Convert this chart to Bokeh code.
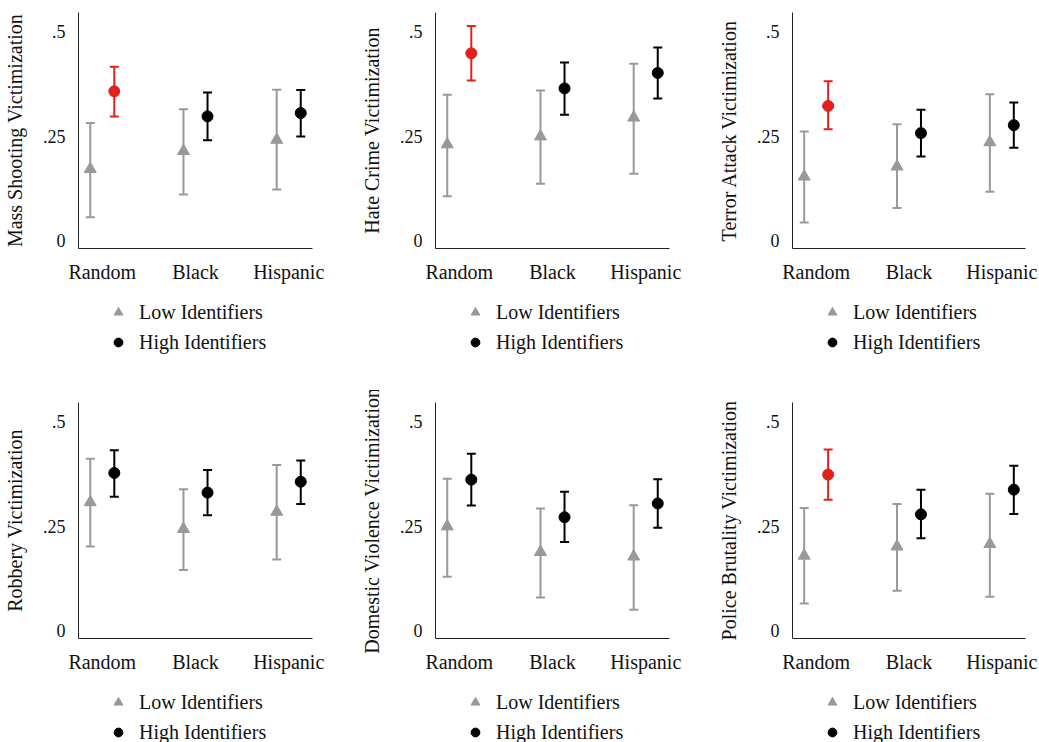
from bokeh.plotting import figure
from bokeh.models import (ColumnDataSource, Whisker, TeeHead, Range1d, FixedTicker,
                          Legend, LegendItem)
from bokeh.layouts import column, row
from bokeh.embed import file_html
from bokeh.resources import INLINE

# ---------------- data ----------------
GROUPS = ["Random", "Black", "Hispanic"]
TITLES = ["Mass Shooting Victimization", "Hate Crime Victimization",
          "Terror Attack Victimization", "Robbery Victimization",
          "Domestic Violence Victimization", "Police Brutality Victimization"]
SERIES = ["Low Identifiers", "High Identifiers"]

LOW_EST = [[0.171, 0.214, 0.241], [0.230, 0.249, 0.294], [0.153, 0.177, 0.235],
           [0.307, 0.243, 0.284], [0.249, 0.188, 0.177], [0.179, 0.201, 0.207]]
LOW_LO = [[0.056, 0.110, 0.122], [0.106, 0.136, 0.160], [0.043, 0.078, 0.117],
          [0.201, 0.145, 0.170], [0.129, 0.079, 0.050], [0.065, 0.095, 0.081]]
LOW_HI = [[0.281, 0.314, 0.361], [0.349, 0.359, 0.423], [0.261, 0.278, 0.350],
          [0.411, 0.338, 0.396], [0.363, 0.292, 0.300], [0.293, 0.303, 0.327]]

HIGH_EST = [[0.357, 0.297, 0.305], [0.448, 0.364, 0.401], [0.322, 0.257, 0.276],
            [0.377, 0.330, 0.356], [0.361, 0.271, 0.304], [0.373, 0.278, 0.337]]
HIGH_LO = [[0.297, 0.240, 0.249], [0.383, 0.301, 0.340], [0.266, 0.201, 0.222],
           [0.320, 0.276, 0.303], [0.299, 0.212, 0.246], [0.313, 0.221, 0.279]]
HIGH_HI = [[0.416, 0.354, 0.360], [0.513, 0.426, 0.462], [0.381, 0.313, 0.330],
           [0.431, 0.384, 0.407], [0.423, 0.332, 0.362], [0.433, 0.337, 0.394]]

# highlighted (significant) high-identifier estimates
HIGHLIGHT = [[1, 0, 0], [1, 0, 0], [1, 0, 0], [0, 0, 0], [0, 0, 0], [1, 0, 0]]

Y_TICKS = [0, 0.25, 0.5]
Y_TICK_LABELS = ["0", ".25", ".5"]

# ---------------- style ----------------
FONT = "Liberation Serif"
GREY = "#999999"
BLACK = "#000000"
RED = "#e2201c"
TEXT = "#111111"
OFFSET = 0.129
FRAME_W, FRAME_H = 234, 236
TOP = 12
PLOT_H = 290
LEG_ITEM_H = 24
LEG_SPACING = 6


def make_plot(i, width, left):
    p = figure(width=width, height=PLOT_H,
               x_range=Range1d(-0.255, 2.255), y_range=Range1d(-0.019, 0.5455),
               output_backend="svg", toolbar_location=None,
               min_border_left=left, min_border_top=TOP,
               min_border_right=width - left - FRAME_W,
               min_border_bottom=PLOT_H - TOP - FRAME_H)
    p.outline_line_color = None
    p.grid.visible = False
    p.background_fill_color = "white"
    p.border_fill_color = "white"

    xs = list(range(len(GROUPS)))
    low = ColumnDataSource(dict(x=[x - OFFSET for x in xs], y=LOW_EST[i],
                                lo=LOW_LO[i], hi=LOW_HI[i]))
    hx = [x + OFFSET for x in xs]
    norm_idx = [k for k in xs if not HIGHLIGHT[i][k]]
    sig_idx = [k for k in xs if HIGHLIGHT[i][k]]
    high = ColumnDataSource(dict(x=[hx[k] for k in norm_idx],
                                 y=[HIGH_EST[i][k] for k in norm_idx],
                                 lo=[HIGH_LO[i][k] for k in norm_idx],
                                 hi=[HIGH_HI[i][k] for k in norm_idx]))
    sig = ColumnDataSource(dict(x=[hx[k] for k in sig_idx],
                                y=[HIGH_EST[i][k] for k in sig_idx],
                                lo=[HIGH_LO[i][k] for k in sig_idx],
                                hi=[HIGH_HI[i][k] for k in sig_idx]))

    for src, col in ((low, GREY), (high, BLACK), (sig, RED)):
        w = Whisker(source=src, base="x", upper="hi", lower="lo", dimension="height",
                    line_color=col, line_width=2, level="underlay",
                    upper_head=TeeHead(size=9, line_color=col, line_width=2),
                    lower_head=TeeHead(size=9, line_color=col, line_width=2))
        p.add_layout(w)

    p.scatter("x", "y", source=low, marker="triangle", size=12,
              fill_color=GREY, line_color=GREY)
    p.scatter("x", "y", source=high, marker="circle", size=11,
              fill_color=BLACK, line_color=BLACK)
    p.scatter("x", "y", source=sig, marker="circle", size=11,
              fill_color=RED, line_color=RED)

    for ax in (p.xaxis[0], p.yaxis[0]):
        ax.axis_line_color = "#222222"
        ax.axis_line_width = 1
        ax.major_tick_line_color = None
        ax.minor_tick_line_color = None
        ax.major_tick_out = 0
        ax.major_tick_in = 0
        ax.minor_tick_out = 0
        ax.major_label_text_font = FONT
        ax.major_label_text_color = TEXT

    p.xaxis.ticker = FixedTicker(ticks=xs)
    p.xaxis.major_label_overrides = {k: g for k, g in zip(xs, GROUPS)}
    p.xaxis.major_label_text_font_size = "20px"
    p.xaxis.major_label_standoff = 12

    p.yaxis.ticker = FixedTicker(ticks=Y_TICKS)
    p.yaxis.major_label_overrides = {t: s for t, s in zip(Y_TICKS, Y_TICK_LABELS)}
    p.yaxis.major_label_text_font_size = "18px"
    p.yaxis.major_label_standoff = 13
    p.yaxis.axis_label = TITLES[i]
    p.yaxis.axis_label_text_font = FONT
    p.yaxis.axis_label_text_font_size = "20px"
    p.yaxis.axis_label_text_font_style = "normal"
    p.yaxis.axis_label_text_color = TEXT
    p.yaxis.axis_label_standoff = 14
    return p, low, high


def make_legend(width, height, left, low, high):
    # legend-only strip; its ranges lie away from the data so only the legend shows
    q = figure(width=width, height=height, x_range=Range1d(-20, -19),
               y_range=Range1d(-20, -19), x_axis_type=None, y_axis_type=None,
               output_backend="svg", toolbar_location=None,
               min_border_left=left, min_border_top=0,
               min_border_right=width - left - FRAME_W, min_border_bottom=0)
    q.outline_line_color = None
    q.grid.visible = False
    q.background_fill_color = "white"
    q.border_fill_color = "white"
    r_low = q.scatter("x", "y", source=low, marker="triangle",
                      fill_color=GREY, line_color=GREY)
    r_high = q.scatter("x", "y", source=high, marker="circle",
                       fill_color=BLACK, line_color=BLACK)
    leg_h = 2 * LEG_ITEM_H + LEG_SPACING
    legend = Legend(items=[LegendItem(label=SERIES[0], renderers=[r_low]),
                           LegendItem(label=SERIES[1], renderers=[r_high])],
                    location=(29, height - 10 - leg_h), orientation="vertical",
                    label_text_font=FONT, label_text_font_size="20px",
                    label_text_color=TEXT, glyph_width=22, glyph_height=LEG_ITEM_H,
                    label_height=LEG_ITEM_H, spacing=LEG_SPACING, label_standoff=10,
                    padding=0, margin=0,
                    border_line_color=None, background_fill_alpha=0)
    q.add_layout(legend, "center")
    return q


widths = [357, 357, 325]
lefts = [78, 78, 77]
legend_heights = [100, 62]
rows = []
for r in range(2):
    cols = []
    for c in range(3):
        p, low, high = make_plot(r * 3 + c, widths[c], lefts[c])
        cols.append(column(p, make_legend(widths[c], legend_heights[r], lefts[c], low, high)))
    rows.append(row(*cols))
layout = column(*rows)

open("out.html", "w").write(file_html(layout, INLINE))
